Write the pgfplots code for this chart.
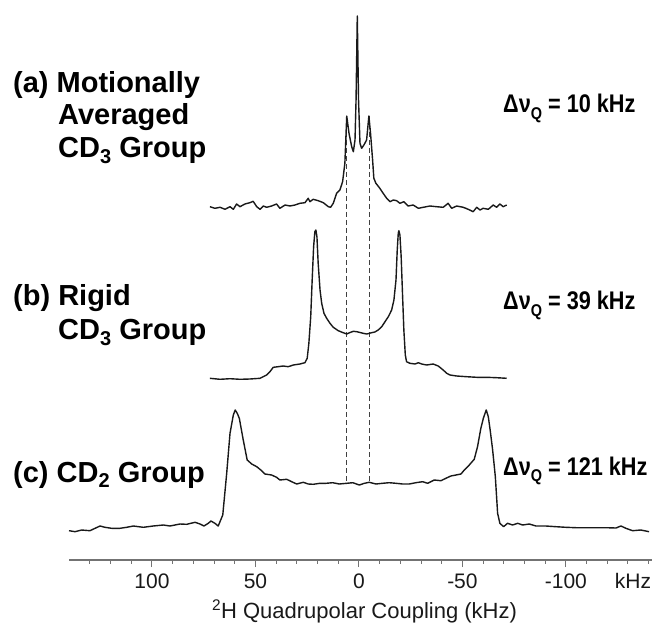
\documentclass[border=0pt]{standalone}
\usepackage{pgfplots}
\pgfplotsset{compat=1.18}
\usepackage{fontspec}
\setmainfont{Liberation Sans}
\newfontfamily\narrowfont[FakeStretch=0.85]{Liberation Sans}
\newcommand{\lab}{\fontsize{29}{33}\selectfont\bfseries}
\newcommand{\dnu}[1]{{\narrowfont\bfseries\fontsize{25.5}{28}\selectfont \char"0394\char"03BD\raisebox{-0.24em}{\fontsize{17}{17}\selectfont Q} = #1 kHz}}
\newcommand{\sub}[1]{\raisebox{-0.2em}{\fontsize{20}{20}\selectfont #1}}
\begin{document}
\begin{tikzpicture}[x=1pt,y=1pt]
\begin{axis}[
  at={(69pt,64pt)}, anchor=south west,
  scale only axis, width=583pt, height=560pt,
  x dir=reverse, xmin=-141.6, xmax=140.1,
  ymin=64, ymax=624,
  clip=false,
  axis x line=bottom, axis y line=none,
  axis line style={-, draw=black!55, line width=1.1pt},
  xtick={-100,-50,0,50,100},
  xticklabels={-100,-50,0,50,100},
  minor xtick={-140,-130,...,130},
  tick align=outside,
  major tick length=7pt, minor tick length=3.5pt,
  every tick/.style={draw=black!55, line width=1pt},
  xticklabel style={anchor=base, yshift=-21pt, font=\fontsize{21}{24}\selectfont, text=black!90},
  /pgf/number format/assume math mode=true,
]
% dashed guide lines
\addplot[black!75, line width=0.9pt, dash pattern=on 5pt off 3pt] coordinates {(5.9,508) (5.9,141)};
\addplot[black!75, line width=0.9pt, dash pattern=on 5pt off 3pt] coordinates {(-5.0,508) (-5.0,141)};
% (a)
\addplot[black!90, line width=1.4pt, line join=round] coordinates {
(72.0,417.3)(69.6,415.7)(67.1,416.7)(64.7,414.7)(62.3,417.3)(60.7,414.7)(59.1,420)(57.5,417.3)
(55.1,420)(52.7,421.3)(51.1,422.7)(49.4,417.3)(47.8,414.7)(46.2,418)(44.6,416.7)(42.2,418)
(39.8,420)(38.2,415.7)(35.7,419)(33.3,418)(30.9,419)(28.5,420.7)(26.1,421.3)(24.5,425.7)
(23.7,422.3)(22.1,424.7)(19.7,423.3)(17.2,421.3)(14.8,417.3)(13.7,416.7)(12.4,420.7)(10.8,430.7)
(9.2,434)(7.9,442.3)(6.8,460.7)(5.9,508)(4.8,490.7)(3.5,477.3)(2.7,472.3)(1.9,484)(1.4,524)
(0.8,608)(0.2,524)(-0.5,480.7)(-1.3,475.7)(-2.4,479)(-3.7,484)(-4.8,508)(-5.6,490.7)(-6.6,464)
(-7.2,445.7)(-8.2,440.7)(-10.1,435.7)(-11.7,430.7)(-13.4,425.7)(-15.0,422.3)(-16.6,424)(-18.2,423.3)
(-19.8,420.7)(-21.7,422.3)(-23.8,418)(-26.2,419)(-28.7,415.7)(-31.1,416.7)(-34.3,418)(-37.5,417.3)
(-40.7,416.7)(-43.1,420.7)(-44.8,415.7)(-47.2,418)(-50.4,416.7)(-52.8,414.7)(-55.2,412.3)(-56.9,416.7)
(-58.5,414)(-60.0,415.7)(-62.5,414.7)(-64.9,419)(-66.5,416.7)(-68.1,420)(-69.7,417.3)(-71.4,419)
};
% (b)
\addplot[black!90, line width=1.4pt, line join=round] coordinates {
(72.0,245.7)(67.1,244.7)(62.3,245.3)(57.5,244.7)(52.7,245)(47.8,245.7)(44.6,249)(43.0,252.3)
(41.4,256.7)(39.0,257.3)(36.6,258)(34.2,257.3)(31.7,259)(28.5,260)(26.1,261.3)(25.0,265.7)
(24.2,280.7)(23.3,307.3)(22.6,344)(21.9,377.3)(21.3,392.3)(20.8,394)(20.3,387.3)(19.7,360.7)
(18.8,334)(18.0,320.7)(16.9,310.7)(15.6,305.7)(14.0,300.7)(12.4,296.7)(10.0,293.3)(7.6,291.3)
(5.9,290)(4.3,291.5)(2.7,292.7)(1.1,292.3)(-0.5,291.5)(-2.1,290.7)(-3.7,290)(-4.8,290.5)
(-6.1,291.3)(-7.7,292)(-9.3,294)(-11.0,297.3)(-12.6,302.3)(-14.2,307.3)(-15.8,314)(-16.9,324)
(-17.9,344)(-18.5,374)(-19.0,390.7)(-19.3,393.3)(-19.8,389)(-20.4,367.3)(-21.1,327.3)(-21.7,294)
(-22.4,269)(-23.0,262.3)(-24.6,260.7)(-27.1,260)(-28.7,261.3)(-30.3,260)(-32.7,259)(-35.9,260)
(-38.3,258)(-40.7,254)(-42.4,250.7)(-44.0,249)(-47.2,248)(-52.0,247.3)(-56.9,246.7)(-61.7,246.7)
(-66.5,246.3)(-71.4,245.7)
};
% (c)
\addplot[black!90, line width=1.4pt, line join=round] coordinates {
(140.1,93.3)(137.2,92.3)(134.0,94)(130.0,93.3)(127.5,95.7)(125.1,98)(122.7,96.7)(119.5,95.7)
(115.5,95.7)(112.2,96.7)(109.0,98)(104.2,96.7)(99.4,98)(94.5,99)(91.3,98)(86.5,100)(83.2,99.7)
(79.2,101.7)(76.8,100)(74.9,98)(72.8,100.7)(71.5,103)(69.6,100.7)(68.0,98)(65.8,109)(63.9,150.7)
(62.3,190.7)(60.7,209)(59.8,214)(58.8,210.7)(57.8,205.7)(55.9,184)(54.0,164)(51.8,160)(49.4,157.3)
(47.0,153.3)(45.4,150)(42.2,149)(39.8,146.7)(38.2,144)(34.9,144.7)(32.5,142.3)(30.1,140)
(26.9,141.7)(24.5,140)(22.1,139.7)(18.8,140.7)(15.9,140.7)(12.7,141.3)(9.5,140)(5.9,140.7)
(3.0,141.3)(-0.2,139)(-2.6,140.7)(-5.0,141.7)(-8.2,140)(-11.4,140.7)(-14.6,141.3)(-17.9,140.7)
(-21.1,140)(-24.3,140)(-27.5,141.3)(-30.8,142.3)(-33.2,140.7)(-36.4,144)(-39.6,143.3)(-42.0,145.7)
(-44.4,148)(-46.9,149)(-49.3,150)(-50.9,154)(-53.3,159)(-55.7,164.7)(-57.3,177.3)(-58.9,195.7)
(-60.1,205.7)(-61.5,214)(-62.5,207.3)(-63.4,194)(-64.6,174)(-65.9,147.3)(-67.0,110.7)(-68.1,100.7)
(-69.9,97.3)(-71.8,100.7)(-74.2,99)(-76.7,100.7)(-79.1,99)(-82.3,100)(-85.5,98)(-90.3,98)
(-95.2,97.3)(-100.0,96.7)(-104.8,96.3)(-109.7,96.3)(-114.5,96.3)(-119.3,96.3)(-124.2,96)
(-126.6,98)(-129.0,95.7)(-132.2,93.3)(-136.2,94)(-140.2,92.3)
};
\end{axis}
% unit label at the end of the axis
\node[anchor=base, inner sep=0, text=black!90, font=\fontsize{21}{24}\selectfont] at (633,36) {kHz};
% axis title
\node[anchor=base, inner sep=0, text=black!90, font=\fontsize{22}{26}\selectfont] at (364.5,5.5) {\textsuperscript{2}H Quadrupolar Coupling (kHz)};
% panel labels
\node[anchor=base west, inner sep=0] at (13,531) {\lab (a) Motionally};
\node[anchor=base west, inner sep=0] at (58,499) {\lab Averaged};
\node[anchor=base west, inner sep=0] at (58,466) {\lab CD\sub{3} Group};
\node[anchor=base west, inner sep=0] at (13,318) {\lab (b) Rigid};
\node[anchor=base west, inner sep=0] at (58,284) {\lab CD\sub{3} Group};
\node[anchor=base west, inner sep=0] at (13,142) {\lab (c) CD\sub{2} Group};
\node[anchor=base west, inner sep=0] at (503,511) {\dnu{10}};
\node[anchor=base west, inner sep=0] at (503,314) {\dnu{39}};
\node[anchor=base west, inner sep=0] at (503,149) {\dnu{121}};
\pgfresetboundingbox
\path[use as bounding box] (0,0) rectangle (652,624);
\end{tikzpicture}
\end{document}
